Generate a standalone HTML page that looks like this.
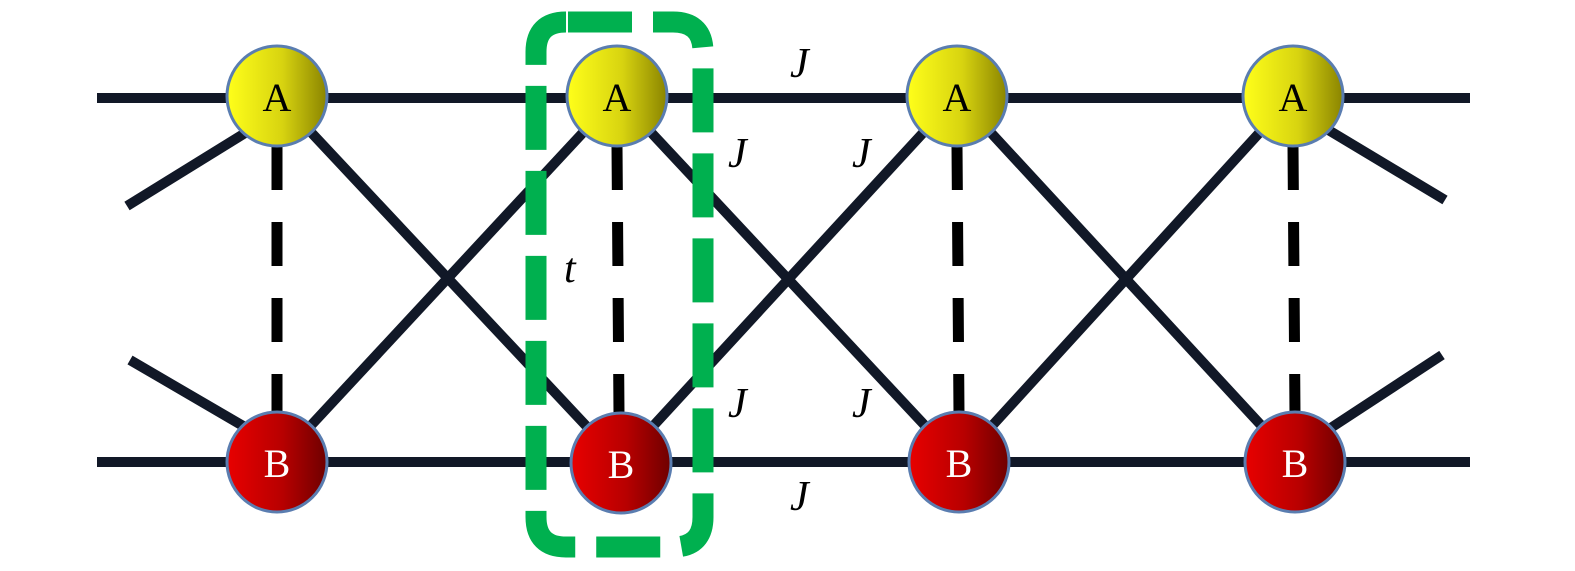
<!DOCTYPE html>
<html><head><meta charset="utf-8"><style>
html,body{margin:0;padding:0;background:#fff;}
svg{display:block;}
text{font-family:"Liberation Serif",serif;}
</style></head><body>
<svg width="1575" height="571" viewBox="0 0 1575 571" xmlns="http://www.w3.org/2000/svg">
<defs>
<linearGradient id="ya" x1="0" x2="1" y1="0" y2="0">
<stop offset="0" stop-color="#ffff1a"/><stop offset="0.55" stop-color="#d8d410"/><stop offset="1" stop-color="#8a8400"/>
</linearGradient>
<linearGradient id="rb" x1="0" x2="1" y1="0" y2="0">
<stop offset="0" stop-color="#e80000"/><stop offset="0.55" stop-color="#b80000"/><stop offset="1" stop-color="#6e0000"/>
</linearGradient>
</defs>
<g stroke="#111827" stroke-width="10" fill="none">
<line x1="97" y1="98" x2="1470" y2="98"/>
<line x1="97" y1="462" x2="1470" y2="462"/>
<line x1="277" y1="96" x2="620" y2="462"/>
<line x1="617" y1="96" x2="277" y2="462"/>
<line x1="617" y1="96" x2="959" y2="462"/>
<line x1="957" y1="96" x2="620" y2="462"/>
<line x1="957" y1="96" x2="1295" y2="462"/>
<line x1="1293" y1="96" x2="959" y2="462"/>
<line x1="127" y1="206" x2="250" y2="130"/>
<line x1="130" y1="360" x2="250" y2="430"/>
<line x1="1320" y1="125" x2="1445" y2="200"/>
<line x1="1320" y1="435" x2="1442" y2="355"/>
</g>
<g stroke="#000" stroke-width="11" stroke-dasharray="44 32">
<line x1="277" y1="146" x2="277" y2="414"/>
<line x1="617" y1="146" x2="619" y2="414"/>
<line x1="957" y1="146" x2="959" y2="414"/>
<line x1="1293" y1="146" x2="1295" y2="414"/>
</g>
<path d="M566,22 L673,22 Q703,22 703,52 L703,517 Q703,547 673,547 L566,547 Q536,547 536,517 L536,52 Q536,22 566,22 Z" fill="none" stroke="#00b04f" stroke-width="21" stroke-dasharray="64 21" stroke-dashoffset="-2"/>
<g stroke="#5a7db0" stroke-width="3">
<circle cx="277" cy="96" r="50" fill="url(#ya)"/>
<circle cx="617" cy="96" r="50" fill="url(#ya)"/>
<circle cx="957" cy="96" r="50" fill="url(#ya)"/>
<circle cx="1293" cy="96" r="50" fill="url(#ya)"/>
<circle cx="277" cy="462" r="50" fill="url(#rb)"/>
<circle cx="621" cy="463" r="50" fill="url(#rb)"/>
<circle cx="959" cy="462" r="50" fill="url(#rb)"/>
<circle cx="1295" cy="462" r="50" fill="url(#rb)"/>
</g>
<g font-size="40" text-anchor="middle">
<text x="277" y="111">A</text><text x="617" y="111">A</text><text x="957" y="111">A</text><text x="1293" y="111">A</text>
<text x="277" y="477" fill="#fff">B</text><text x="621" y="478" fill="#fff">B</text><text x="959" y="477" fill="#fff">B</text><text x="1295" y="477" fill="#fff">B</text>
</g>
<g font-size="42" font-style="italic">
<text x="790" y="77">J</text>
<text x="728" y="167">J</text>
<text x="852" y="167">J</text>
<text x="728" y="417">J</text>
<text x="852" y="417">J</text>
<text x="790" y="510">J</text>
<text x="564" y="282">t</text>
</g>
</svg>
</body></html>
